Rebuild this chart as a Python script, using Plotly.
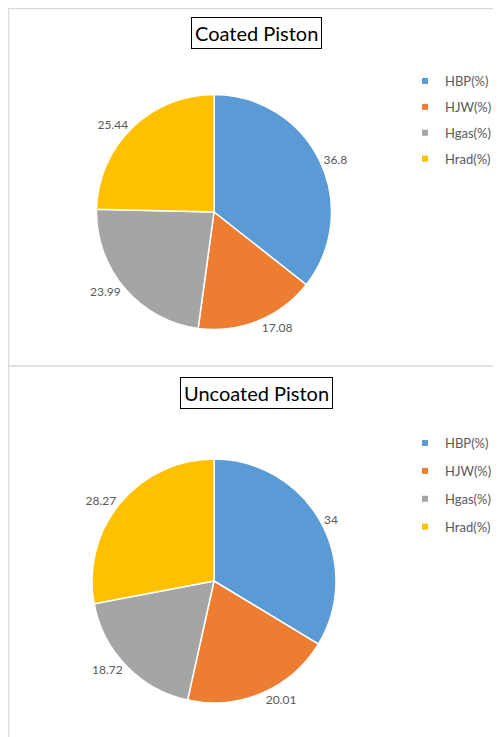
import plotly.graph_objects as go

# figure sits inside the page body's default 8px margin
OFF = 8
W, H = 501 - OFF, 737 - OFF

categories = ["HBP(%)", "HJW(%)", "Hgas(%)", "Hrad(%)"]
coated_values = [36.8, 17.08, 23.99, 25.44]
uncoated_values = [34, 20.01, 18.72, 28.27]
titles = ["Coated Piston", "Uncoated Piston"]
colors = ["#5B9BD5", "#ED7D31", "#A5A5A5", "#FFC000"]

FONT = "Lato, 'Open Sans', Arial, sans-serif"
GRAY = "#595959"


def px_x(v):  # screen pixel -> paper fraction
    return (v - OFF) / W


def px_y(v):
    return 1 - (v - OFF) / H


fig = go.Figure()

pie_boxes = [  # (x0, x1, ytop, ybottom) in screen pixels
    (96.5, 331.5, 94.5, 329.5),
    (92, 336, 459, 703),
]
for vals, (x0, x1, yt, yb) in zip([coated_values, uncoated_values], pie_boxes):
    fig.add_trace(go.Pie(
        labels=categories, values=vals, sort=False, direction="clockwise",
        rotation=0, textinfo="value", textposition="outside",
        texttemplate="%{value}",
        textfont=dict(family=FONT, size=12, color=GRAY),
        marker=dict(colors=colors, line=dict(color="white", width=1.5)),
        domain=dict(x=[px_x(x0), px_x(x1)], y=[px_y(yb), px_y(yt)]),
        showlegend=False, hoverinfo="label+value",
    ))

# legend entries (small square markers)
for lg in ["legend", "legend2"]:
    for cat, col in zip(categories, colors):
        fig.add_trace(go.Scatter(
            x=[None], y=[None], mode="markers", name=cat,
            marker=dict(symbol="square", size=6, color=col),
            legend=lg, legendgroup=f"{lg}-{cat}", showlegend=True,
        ))

legend_common = dict(
    font=dict(family=FONT, size=13, color=GRAY),
    bgcolor="rgba(0,0,0,0)", itemsizing="trace",
    traceorder="grouped", xanchor="left", yanchor="top",
)
fig.update_layout(
    legend=dict(x=px_x(405), y=px_y(66), tracegroupgap=6, **legend_common),
    legend2=dict(x=px_x(405), y=px_y(428), tracegroupgap=8, **legend_common),
)

# frame lines
line_col = "#D9D9D9"
shapes = [
    dict(type="line", xref="paper", yref="paper", x0=px_x(8), x1=1.0, y0=px_y(8.5), y1=px_y(8.5)),
    dict(type="line", xref="paper", yref="paper", x0=px_x(8.5), x1=px_x(8.5), y0=px_y(8), y1=0),
    dict(type="line", xref="paper", yref="paper", x0=px_x(8), x1=1.0, y0=px_y(366), y1=px_y(366)),
]
for s in shapes:
    s["line"] = dict(color=line_col, width=1.5)

annotations = [
    dict(text=titles[0], x=px_x(256), y=px_y(33)),
    dict(text=titles[1], x=px_x(257), y=px_y(393)),
]
for a in annotations:
    a.update(xref="paper", yref="paper", xanchor="center", yanchor="middle",
             showarrow=False, font=dict(family=FONT, size=20, color="black"),
             bordercolor="black", borderwidth=1, borderpad=3, bgcolor="white")

fig.update_layout(
    width=W, height=H,
    margin=dict(l=0, r=0, t=0, b=0),
    paper_bgcolor="white", plot_bgcolor="white",
    shapes=shapes, annotations=annotations,
    xaxis=dict(visible=False), yaxis=dict(visible=False),
)

fig.write_html("out.html")
